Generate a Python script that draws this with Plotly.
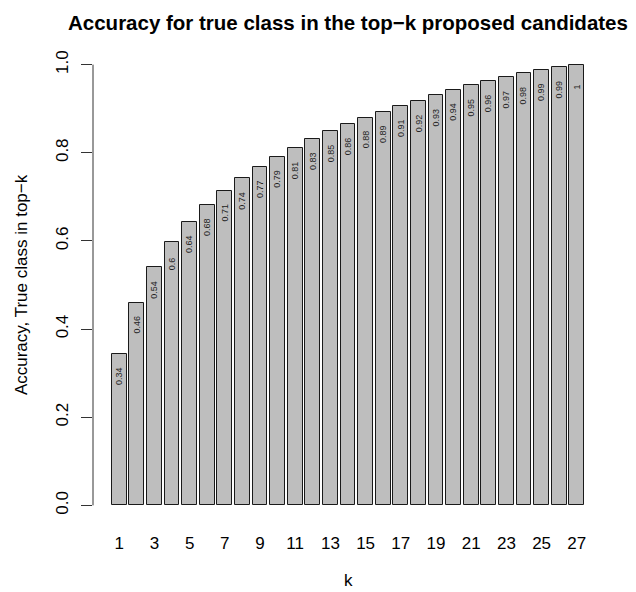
import plotly.graph_objects as go

k = list(range(1, 28))
accuracy = [0.344, 0.460, 0.540, 0.597, 0.642, 0.682, 0.714, 0.742, 0.768, 0.790,
            0.811, 0.831, 0.850, 0.865, 0.880, 0.893, 0.906, 0.918, 0.930, 0.942,
            0.953, 0.962, 0.972, 0.980, 0.987, 0.994, 1.000]
labels = ["0.34", "0.46", "0.54", "0.6", "0.64", "0.68", "0.71", "0.74", "0.77", "0.79",
          "0.81", "0.83", "0.85", "0.86", "0.88", "0.89", "0.91", "0.92", "0.93", "0.94",
          "0.95", "0.96", "0.97", "0.98", "0.99", "0.99", "1"]
y_ticks = [0.0, 0.2, 0.4, 0.6, 0.8, 1.0]
y_ticktext = ["0.0", "0.2", "0.4", "0.6", "0.8", "1.0"]

# R barplot layout: width 1, space 0.2
centers = [0.7 + 1.2 * (i - 1) for i in k]
FONT = "Liberation Sans, Arial, Helvetica, sans-serif"

fig = go.Figure()
fig.add_trace(go.Bar(
    x=centers, y=accuracy, width=1.0,
    marker=dict(color="#BEBEBE", line=dict(color="#1a1a1a", width=1)),
    hoverinfo="skip", showlegend=False,
))

annotations = []
for xc, v, lab in zip(centers, accuracy, labels):
    annotations.append(dict(x=xc, y=v - 0.05, xref="x", yref="y", text=lab,
                            textangle=-90, showarrow=False,
                            font=dict(family=FONT, size=9, color="#222222"),
                            xanchor="center", yanchor="middle"))

annotations += [
    dict(x=0.5, y=1.0525, xref="paper", yref="paper",
         text="<b>Accuracy for true class in the top\u2212k proposed candidates</b>",
         showarrow=False, font=dict(family=FONT, size=20.5, color="black"),
         xanchor="center", yanchor="middle"),
    dict(x=0.5, y=-0.144, xref="paper", yref="paper", text="k",
         showarrow=False, font=dict(family=FONT, size=17, color="black"),
         xanchor="center", yanchor="bottom"),
    dict(x=-0.141, y=0.5, xref="paper", yref="paper",
         text="Accuracy, True class in top\u2212k", textangle=-90,
         showarrow=False, font=dict(family=FONT, size=17, color="black"),
         xanchor="center", yanchor="middle"),
]

fig.update_layout(
    width=628, height=584,
    margin=dict(l=85, r=33, t=39, b=69),
    paper_bgcolor="white", plot_bgcolor="white",
    font=dict(family=FONT, size=17, color="black"),
    annotations=annotations,
    shapes=[dict(type="line", xref="paper", yref="y", x0=0, x1=0, y0=0, y1=1,
                 line=dict(color="#333333", width=1))],
    bargap=0,
)
fig.update_xaxes(
    range=[-1.088, 33.688], showgrid=False, zeroline=False, showline=False,
    tickvals=centers[::2], ticktext=[str(v) for v in k[::2]],
    ticks="", ticklabelstandoff=8, automargin=False,
    tickfont=dict(family=FONT, size=17, color="black"),
)
fig.update_yaxes(
    range=[-0.04, 1.04], showgrid=False, zeroline=False, showline=False,
    tickvals=y_ticks, ticktext=y_ticktext, tickangle=-90,
    ticks="outside", ticklen=11, tickcolor="#333333", tickwidth=1,
    ticklabelstandoff=6, automargin=False,
    tickfont=dict(family=FONT, size=17, color="black"),
)

fig.write_html("out.html")
